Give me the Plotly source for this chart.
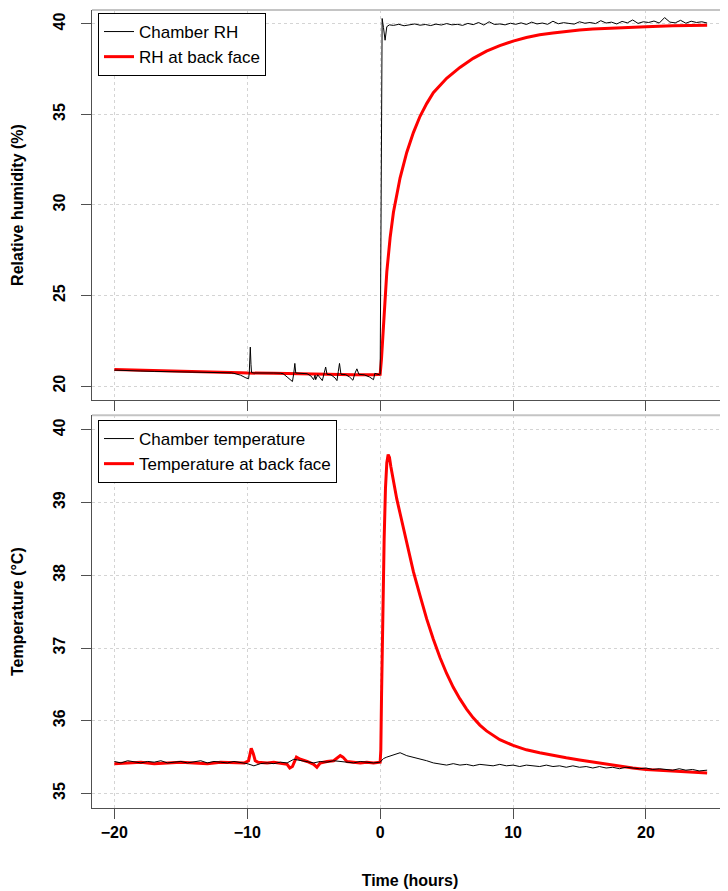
import plotly.graph_objects as go

# ---------------- data ----------------
# Top panel: chamber RH (black)
rh_ch_t = [-20.0, -19.5, -19.0, -18.5, -18.0, -17.0, -16.0, -15.0, -14.0, -13.0, -12.0, -11.2,
           -11.0, -10.5, -10.1, -9.9, -9.85, -9.8, -9.77, -9.72, -9.68, -9.5, -9.0, -8.5, -8.0,
           -7.5, -7.3, -7.0, -6.7, -6.6, -6.5, -6.42, -6.35, -6.0, -5.5, -5.2, -5.0, -4.9, -4.85,
           -4.7, -4.5, -4.35, -4.2, -4.1, -4.0, -3.7, -3.4, -3.25, -3.15, -3.06, -2.95, -2.6,
           -2.3, -2.05, -1.9, -1.75, -1.6, -1.2, -0.8, -0.5, -0.4, -0.2, -0.05, 0.0, 0.1, 0.15,
           0.25, 0.37, 0.5, 0.7,
           1.0, 1.4, 1.8, 2.2, 2.6, 3.0, 3.4, 3.8, 4.2, 4.6,
           5.0, 5.4, 5.8, 6.2, 6.6, 7.0, 7.4, 7.8, 8.2, 8.6,
           9.0, 9.4, 9.8, 10.2, 10.6, 11.0, 11.4, 11.8, 12.2, 12.6,
           13.0, 13.4, 13.8, 14.2, 14.6, 15.0, 15.4, 15.8, 16.2, 16.6,
           17.0, 17.4, 17.8, 18.2, 18.6, 19.0, 19.4, 19.8, 20.2, 20.6,
           21.0, 21.4, 21.8, 22.2, 22.6, 23.0, 23.4, 23.8, 24.2, 24.6]
rh_ch_v = [20.88, 20.86, 20.85, 20.84, 20.83, 20.81, 20.80, 20.79, 20.78, 20.76, 20.75, 20.73,
           20.70, 20.60, 20.45, 20.40, 20.70, 21.60, 22.15, 21.20, 20.75, 20.72, 20.73, 20.72, 20.72,
           20.71, 20.68, 20.50, 20.30, 20.25, 20.70, 21.25, 20.72, 20.70, 20.68, 20.55, 20.35, 20.60, 20.35,
           20.62, 20.45, 20.30, 20.75, 21.05, 20.65, 20.62, 20.45, 20.30, 20.80, 21.25, 20.65, 20.63,
           20.50, 20.32, 20.70, 20.95, 20.65, 20.62, 20.50, 20.35, 20.70, 20.65, 20.62, 20.65, 36.00, 40.30,
           39.80, 39.10, 39.85, 39.95,
           39.92, 39.98, 39.90, 39.96, 40.00, 39.93, 39.97, 39.91, 39.99, 39.94,
           40.02, 39.95, 39.98, 39.92, 40.03, 39.96, 40.08, 39.94, 40.12, 39.97,
           40.00, 39.95, 40.04, 39.98, 40.06, 39.97, 40.10, 40.00, 40.05, 39.98,
           40.15, 40.01, 40.07, 40.03, 39.99, 40.12, 40.04, 40.08, 40.02, 40.18,
           40.05, 40.10, 40.00, 40.14, 40.06, 40.22, 40.03, 40.12, 40.08, 40.16,
           40.05, 40.35, 40.10, 40.06, 40.20, 40.04, 40.15, 40.08, 40.12, 40.05]

# Top panel: RH at back face (red)
rh_bf_t = [-20, -18, -16, -14, -12, -10.5, -10, -8, -6, -4, -2, -0.5, 0, 0.1, 0.2, 0.3, 0.5,
           0.75, 1, 1.5, 2, 2.5, 3, 3.5, 4, 5, 6, 7, 8, 9, 10, 11, 12, 13, 14, 15, 16, 18, 20, 22, 24.6]
rh_bf_v = [20.92, 20.87, 20.83, 20.79, 20.76, 20.74, 20.72, 20.70, 20.67, 20.63, 20.62, 20.62,
           20.65, 21.5, 22.8, 24.2, 26.3, 28.2, 29.6, 31.5, 32.9, 34.0, 34.9, 35.6, 36.2, 37.0,
           37.6, 38.1, 38.5, 38.8, 39.05, 39.25, 39.4, 39.5, 39.6, 39.67, 39.72, 39.8, 39.85,
           39.9, 39.93]

# Bottom panel: chamber temperature (black)
t_ch_t = [-20.0, -19.5, -19.0, -18.5, -18.0, -17.5, -17.0, -16.5, -16.0, -15.5, -15.0, -14.5,
          -14.0, -13.5, -13.0, -12.5, -12.0, -11.5, -11.0, -10.5, -10.0, -9.5, -9.0, -8.5, -8.0,
          -7.5, -7.0, -6.5, -6.0, -5.5, -5.0, -4.5, -4.0, -3.5, -3.0, -2.5, -2.0, -1.5, -1.0,
          -0.5, 0.0, 0.25, 0.5, 1.0, 1.5, 2.0, 2.5, 3.0, 3.5, 4.0, 4.5, 5.0, 5.5, 6.0, 6.5, 7.0,
          7.5, 8.0, 8.5, 9.0, 9.5, 10.0, 10.5, 11.0, 11.5, 12.0, 12.5, 13.0, 13.5, 14.0, 14.5,
          15.0, 15.5, 16.0, 16.5, 17.0, 17.5, 18.0, 18.5, 19.0, 19.5, 20.0, 20.5, 21.0, 21.5,
          22.0, 22.5, 23.0, 23.5, 24.0, 24.6]
t_ch_v = [35.44, 35.42, 35.45, 35.43, 35.42, 35.44, 35.43, 35.45, 35.42, 35.43, 35.44, 35.42,
          35.43, 35.45, 35.42, 35.44, 35.43, 35.42, 35.44, 35.43, 35.41, 35.38, 35.41, 35.42, 35.41,
          35.43, 35.42, 35.47, 35.45, 35.44, 35.42, 35.44, 35.43, 35.45, 35.44, 35.43, 35.42, 35.44,
          35.43, 35.42, 35.43, 35.48, 35.50, 35.53, 35.56, 35.52, 35.50, 35.47, 35.45, 35.42, 35.41,
          35.39, 35.41, 35.39, 35.40, 35.38, 35.40, 35.39, 35.38, 35.40, 35.38, 35.39, 35.37, 35.39,
          35.38, 35.37, 35.39, 35.37, 35.38, 35.36, 35.38, 35.36, 35.37, 35.35, 35.37, 35.35, 35.36,
          35.34, 35.36, 35.35, 35.34, 35.35, 35.33, 35.34, 35.33, 35.32, 35.34, 35.32, 35.33, 35.31,
          35.32]

# Bottom panel: temperature at back face (red)
t_bf_t = [-20, -19, -18, -17, -16, -15, -14, -13, -12, -11, -10.2, -9.9, -9.7, -9.55, -9.4, -9.2,
          -8.5, -8, -7.5, -7, -6.8, -6.6, -6.3, -6, -5.5, -5, -4.76, -4.5, -4, -3.5, -3, -2.8,
          -2.5, -2, -1.5, -1, -0.5, 0, 0.05, 0.1, 0.2, 0.3, 0.4, 0.5, 0.6, 0.7, 0.8, 1.0, 1.25,
          1.5, 2, 2.5, 3, 3.5, 4, 4.5, 5, 5.5, 6, 6.5, 7, 7.5, 8, 9, 10, 11, 12, 13, 14, 15, 16,
          17, 18, 19, 20, 21, 22, 23, 24, 24.6]
t_bf_v = [35.41, 35.42, 35.43, 35.41, 35.42, 35.43, 35.42, 35.41, 35.43, 35.42, 35.42, 35.45,
          35.62, 35.55, 35.45, 35.43, 35.42, 35.43, 35.42, 35.40, 35.35, 35.37, 35.50, 35.47,
          35.44, 35.40, 35.36, 35.42, 35.44, 35.45, 35.52, 35.50, 35.44, 35.43, 35.42, 35.43,
          35.42, 35.43, 35.60, 36.30, 37.50, 38.50, 39.20, 39.55, 39.66, 39.62, 39.50, 39.28,
          39.05, 38.85, 38.45, 38.05, 37.72, 37.40, 37.12, 36.87, 36.65, 36.46, 36.30, 36.16,
          36.04, 35.94, 35.86, 35.74, 35.66, 35.60, 35.56, 35.52, 35.49, 35.46, 35.43, 35.40,
          35.37, 35.35, 35.33, 35.32, 35.31, 35.30, 35.29, 35.28]

x_ticks = [-20, -10, 0, 10, 20]
rh_ticks = [20, 25, 30, 35, 40]
temp_ticks = [35, 36, 37, 38, 39, 40]

# ---------------- figure ----------------
FONT = "Liberation Sans, Arial, sans-serif"
fig = go.Figure()

fig.add_trace(go.Scatter(x=rh_bf_t, y=rh_bf_v, mode="lines", name="RH at back face",
                         line=dict(color="#ff0000", width=3), legend="legend", legendrank=2,
                         xaxis="x", yaxis="y"))
fig.add_trace(go.Scatter(x=rh_ch_t, y=rh_ch_v, mode="lines", name="Chamber RH",
                         line=dict(color="#000000", width=1), legend="legend", legendrank=1,
                         xaxis="x", yaxis="y"))
fig.add_trace(go.Scatter(x=t_bf_t, y=t_bf_v, mode="lines", name="Temperature at back face",
                         line=dict(color="#ff0000", width=3), legend="legend2", legendrank=2,
                         xaxis="x2", yaxis="y2"))
fig.add_trace(go.Scatter(x=t_ch_t, y=t_ch_v, mode="lines", name="Chamber temperature",
                         line=dict(color="#000000", width=1), legend="legend2", legendrank=1,
                         xaxis="x2", yaxis="y2"))

axis_common = dict(showline=True, linecolor="#505050", linewidth=1, ticks="outside",
                   ticklen=10, tickcolor="#505050", showgrid=True, gridcolor="#d4d4d4",
                   griddash="dot", gridwidth=1, zeroline=False, automargin=False,
                   tickfont=dict(family=FONT, size=16, color="#000", weight="bold"))

# the page body has an 8px margin, so the figure box is offset to land on the reference spots
fig.update_layout(
    width=728, height=891,
    margin=dict(l=84, r=8, t=2, b=91, autoexpand=False),
    paper_bgcolor="white", plot_bgcolor="white",
    font=dict(family=FONT, color="#000"),
    showlegend=True,
    xaxis=dict(domain=[0, 1], range=[-21.68, 26.17], anchor="y", tickvals=x_ticks,
               showticklabels=False, **axis_common),
    yaxis=dict(domain=[0.5113, 1], range=[19.23, 40.77], anchor="x", tickvals=rh_ticks,
               tickangle=-90, ticklabelstandoff=10,
               title=dict(text="Relative humidity (%)", standoff=22,
                          font=dict(family=FONT, size=16, weight="bold")),
               **axis_common),
    xaxis2=dict(domain=[0, 1], range=[-21.68, 26.17], anchor="y2", tickvals=x_ticks,
                ticklabelstandoff=0,
                title=dict(text="Time (hours)", standoff=34,
                           font=dict(family=FONT, size=16, weight="bold")),
                **axis_common),
    yaxis2=dict(domain=[0, 0.4921], range=[34.8, 40.2], anchor="x2", tickvals=temp_ticks,
                tickangle=-90, ticklabelstandoff=10,
                title=dict(text="Temperature (°C)", standoff=22,
                           font=dict(family=FONT, size=16, weight="bold")),
                **axis_common),
    legend=dict(xref="paper", yref="paper", x=6/636, y=(798-3)/798,
                xanchor="left", yanchor="top", bgcolor="white", bordercolor="#000",
                borderwidth=1, font=dict(family=FONT, size=17, color="#000"),
                traceorder="normal"),
    legend2=dict(xref="paper", yref="paper", x=6/636, y=(798-410)/798,
                 xanchor="left", yanchor="top", bgcolor="white", bordercolor="#000",
                 borderwidth=1, font=dict(family=FONT, size=17, color="#000"),
                 traceorder="normal"),
    shapes=[
        dict(type="line", xref="paper", yref="y domain", x0=0, x1=1, y0=1, y1=1,
             line=dict(color="#c4c4c4", width=2)),
        dict(type="line", xref="paper", yref="y2 domain", x0=0, x1=1, y0=1, y1=1,
             line=dict(color="#c4c4c4", width=2)),
    ],
)

fig.write_html("out.html")
